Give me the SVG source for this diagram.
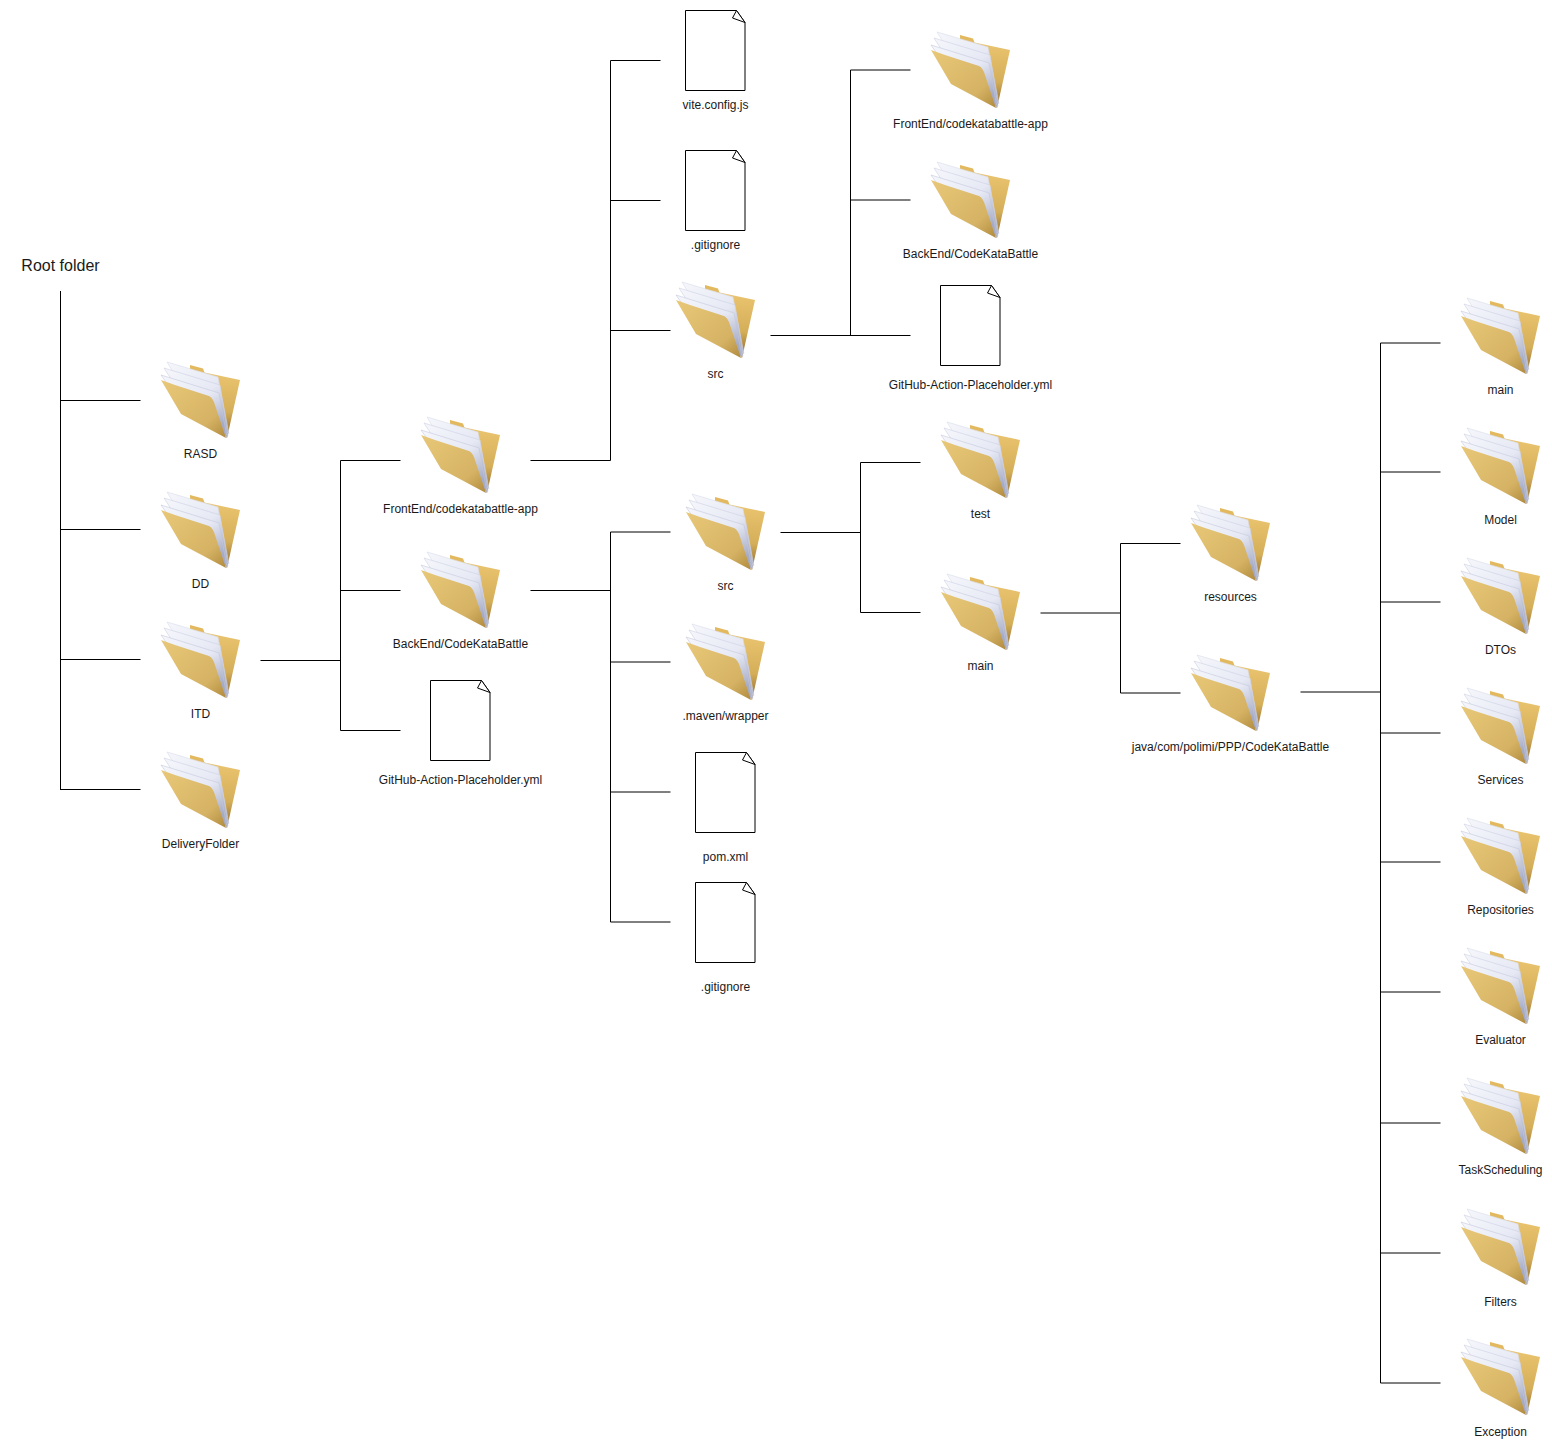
<svg xmlns="http://www.w3.org/2000/svg" xmlns:xlink="http://www.w3.org/1999/xlink" width="1552" height="1450" viewBox="0 0 1552 1450">
<style>
text{font-family:"Liberation Sans",Arial,sans-serif;font-size:12px;fill:#1a1a1a;text-anchor:middle}
.root{font-size:16px}
#connectors path{fill:none;stroke:#000;stroke-width:1}
</style>
<defs>
<linearGradient id="fb" x1="0" y1="0" x2="0" y2="1"><stop offset="0" stop-color="#ecc670"/><stop offset="0.62" stop-color="#d5ae5a"/><stop offset="1" stop-color="#8a6526"/></linearGradient>
<linearGradient id="ff" x1="0" y1="0" x2="1" y2="1"><stop offset="0" stop-color="#e8c878"/><stop offset="0.72" stop-color="#d6b364"/><stop offset="1" stop-color="#b08a3e"/></linearGradient>
<linearGradient id="pp" x1="0" y1="0" x2="0.6" y2="1"><stop offset="0" stop-color="#f6f7fc"/><stop offset="0.55" stop-color="#e6e9f4"/><stop offset="1" stop-color="#a5abc5"/></linearGradient>
<g id="folder">
<path d="M30 3 L43 6.5 L45 12 L30 8 Z" fill="#e3b95f"/>
<path d="M28 7 L80 18 L67 76 L40 40 Z" fill="url(#fb)"/>
<path d="M7 0 L58 15 L69 72 L25 30 Z" fill="url(#pp)" stroke="#d8dbe9" stroke-width=".6"/>
<path d="M4 6 L60 23 L68 74 L22 34 Z" fill="url(#pp)" stroke="#ccd0e2" stroke-width=".6"/>
<path d="M1 13 L59 31 L67 75 L20 40 Z" fill="url(#pp)" stroke="#c4c8dc" stroke-width=".6"/>
<path d="M1 18 L15 23 L49 34 Q53 36 55 43 L66 76 L21 52 Z" fill="url(#ff)"/>
</g>
<g id="file">
<path d="M0.5 0.5 H51.5 L60 12.5 V80.5 H0.5 Z" fill="#fff" stroke="#000"/>
<path d="M51.5 0.5 L47.5 8 L60 12.5 Z" fill="#fff" stroke="#000"/>
</g>
</defs>
<rect width="1552" height="1450" fill="#fff"/>
<g id="connectors">
<path d="M60.5 291V790M60.5 400.5H140.5M60.5 529.5H140.5M60.5 659.5H140.5M60.5 789.5H140.5"/>
<path d="M260.5 660.5H340.5M340.5 460.5V730.5M340.5 460.5H400.5M340.5 590.5H400.5M340.5 730.5H400.5"/>
<path d="M530.5 460.5H610.5M610.5 60.5V460.5M610.5 60.5H660.5M610.5 200.5H660.5M610.5 330.5H670.5"/>
<path d="M770.5 335.5H910.5M850.5 70V335.5M850.5 70H910.5M850.5 200H910.5"/>
<path d="M530.5 590.5H610.5M610.5 532V922M610.5 532H670.5M610.5 662H670.5M610.5 792H670.5M610.5 922H670.5"/>
<path d="M780.5 532.5H860.5M860.5 462.5V612.5M860.5 462.5H920.5M860.5 612.5H920.5"/>
<path d="M1040.5 613H1120.5M1120.5 543.5V693M1120.5 543.5H1180.5M1120.5 693H1180.5"/>
<path d="M1300.5 692H1380.5M1380.5 343V1383M1380.5 343H1440.5M1380.5 472H1440.5M1380.5 602H1440.5M1380.5 733H1440.5M1380.5 862H1440.5M1380.5 992H1440.5M1380.5 1123H1440.5M1380.5 1253H1440.5M1380.5 1383H1440.5"/>
</g>
<g id="root-folder"><text class="root" x="60.5" y="271">Root folder</text></g>
<g id="rasd"><use href="#folder" x="160" y="362"/><text x="200.5" y="458">RASD</text></g>
<g id="dd"><use href="#folder" x="160" y="492"/><text x="200.5" y="588">DD</text></g>
<g id="itd"><use href="#folder" x="160" y="622"/><text x="200.5" y="718">ITD</text></g>
<g id="delivery"><use href="#folder" x="160" y="752"/><text x="200.5" y="848">DeliveryFolder</text></g>
<g id="frontend"><use href="#folder" x="420" y="417"/><text x="460.5" y="513">FrontEnd/codekatabattle-app</text></g>
<g id="backend"><use href="#folder" x="420" y="552"/><text x="460.5" y="648">BackEnd/CodeKataBattle</text></g>
<g id="gh1"><use href="#file" x="430" y="680"/><text x="460.5" y="784">GitHub-Action-Placeholder.yml</text></g>
<g id="vite"><use href="#file" x="685" y="10"/><text x="715.5" y="109">vite.config.js</text></g>
<g id="gitignore1"><use href="#file" x="685" y="150"/><text x="715.5" y="249">.gitignore</text></g>
<g id="src1"><use href="#folder" x="675" y="282"/><text x="715.5" y="378">src</text></g>
<g id="fe2"><use href="#folder" x="930" y="32"/><text x="970.5" y="128">FrontEnd/codekatabattle-app</text></g>
<g id="be2"><use href="#folder" x="930" y="162"/><text x="970.5" y="258">BackEnd/CodeKataBattle</text></g>
<g id="gh2"><use href="#file" x="940" y="285"/><text x="970.5" y="389">GitHub-Action-Placeholder.yml</text></g>
<g id="test"><use href="#folder" x="940" y="422"/><text x="980.5" y="518">test</text></g>
<g id="main1"><use href="#folder" x="940" y="574"/><text x="980.5" y="670">main</text></g>
<g id="src2"><use href="#folder" x="685" y="494"/><text x="725.5" y="590">src</text></g>
<g id="maven"><use href="#folder" x="685" y="624"/><text x="725.5" y="720">.maven/wrapper</text></g>
<g id="pom"><use href="#file" x="695" y="752"/><text x="725.5" y="861">pom.xml</text></g>
<g id="gitignore2"><use href="#file" x="695" y="882"/><text x="725.5" y="991">.gitignore</text></g>
<g id="resources"><use href="#folder" x="1190" y="505"/><text x="1230.5" y="601">resources</text></g>
<g id="java"><use href="#folder" x="1190" y="655"/><text x="1230.5" y="751">java/com/polimi/PPP/CodeKataBattle</text></g>
<g id="main2"><use href="#folder" x="1460" y="298"/><text x="1500.5" y="394">main</text></g>
<g id="model"><use href="#folder" x="1460" y="428"/><text x="1500.5" y="524">Model</text></g>
<g id="dtos"><use href="#folder" x="1460" y="558"/><text x="1500.5" y="654">DTOs</text></g>
<g id="services"><use href="#folder" x="1460" y="688"/><text x="1500.5" y="784">Services</text></g>
<g id="repositories"><use href="#folder" x="1460" y="818"/><text x="1500.5" y="914">Repositories</text></g>
<g id="evaluator"><use href="#folder" x="1460" y="948"/><text x="1500.5" y="1044">Evaluator</text></g>
<g id="taskscheduling"><use href="#folder" x="1460" y="1078"/><text x="1500.5" y="1174">TaskScheduling</text></g>
<g id="filters"><use href="#folder" x="1460" y="1209"/><text x="1500.5" y="1306">Filters</text></g>
<g id="exception"><use href="#folder" x="1460" y="1339"/><text x="1500.5" y="1436">Exception</text></g>
</svg>
